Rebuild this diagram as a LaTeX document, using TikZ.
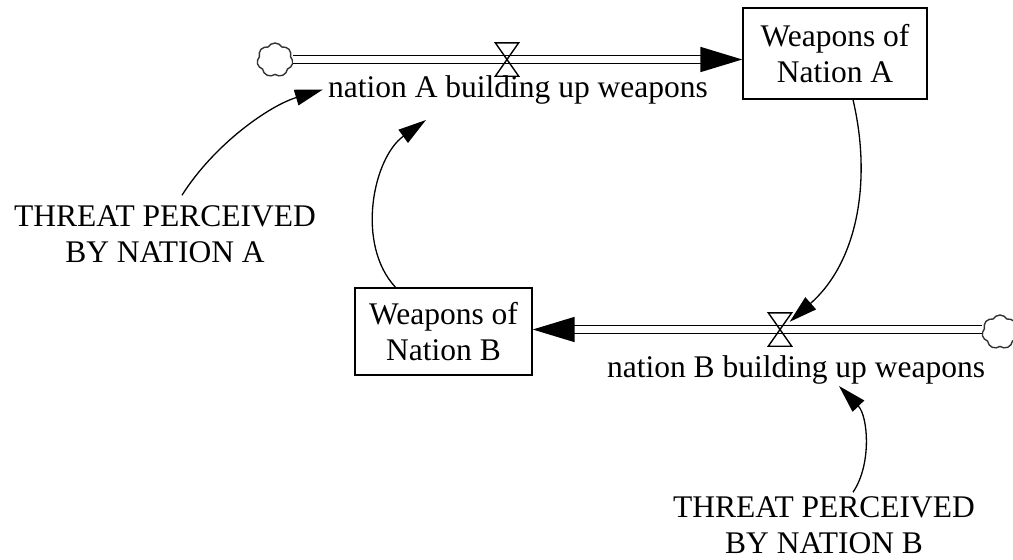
\documentclass[tikz,border=0pt]{standalone}
\usepackage{fontspec}
\setmainfont{Liberation Serif}
\usetikzlibrary{arrows.meta, positioning, shapes.symbols}

\newcommand{\drawvalve}[1]{\draw[line width=1.4pt] (#1.north west) -- (#1.north east) -- (#1.south west) -- (#1.south east) -- cycle;}

\begin{document}
\begin{tikzpicture}[
    x=1pt, y=-1pt,
    font=\fontsize{31.5}{36}\selectfont,
    stock/.style={draw, rectangle, line width=1.4pt, align=center, inner sep=2pt},
    txt/.style={align=center, inner sep=2pt},
    source/.style={draw=black!80, cloud, cloud puffs=7, cloud puff arc=120, aspect=1.05, minimum width=36pt, minimum height=34pt, inner sep=0pt, line width=1.4pt},
    valve/.style={inner sep=0pt, minimum width=23pt, minimum height=33pt},
    pipe/.style={double, double distance=6.5pt, line width=1.7pt, -{Triangle[length=42pt, width=25pt]}},
    arrow/.style={line width=1.3pt, -{Triangle[length=28pt, width=16pt]}}
]
\useasboundingbox (0,0) rectangle (1013,560);

% Stocks
\node[stock, minimum width=184pt, minimum height=91pt] (stockA) at (835,53.5) {Weapons of\\Nation A};
\node[stock, minimum width=177pt, minimum height=87pt] (stockB) at (443.5,331.5) {Weapons of\\Nation B};

% Sources and valves
\node[source] (cloudA) at (275,60) {};
\node[source] (cloudB) at (1000,332) {};
\node[valve] (valveA) at (507,59.5) {};
\node[valve] (valveB) at (780,329.5) {};

% Flow rates and constants
\node[txt] (rateA) at (518,89.5) {nation A building up weapons};
\node[txt] (rateB) at (796,369.5) {nation B building up weapons};
\node[txt] (threatA) at (165,234) {THREAT PERCEIVED\\BY NATION A};
\node[txt] (threatB) at (824,525) {THREAT PERCEIVED\\BY NATION B};

% Flows
\draw[pipe] (valveA -| cloudA.east) -- (valveA -| stockA.west);
\draw[pipe] (valveB -| cloudB.west) -- (valveB -| stockB.east);
\drawvalve{valveA}
\drawvalve{valveB}

% Information links
\draw[arrow] ([xshift=17pt, yshift=8pt]threatA.north) .. controls +(33,-52) and +(-53,16) .. ([xshift=-3pt]rateA.west);
\draw[arrow] ([xshift=-48pt]stockB.north) .. controls +(-40,-43) and +(-53,38) .. ([xshift=100pt, yshift=-14pt]rateA.south west);
\draw[arrow] ([xshift=18pt]stockA.south) .. controls +(19,81) and +(68,-60) .. ([xshift=-2pt, yshift=-9pt]valveB.north east);
\draw[arrow] ([xshift=29pt, yshift=2pt]threatB.north) .. controls +(19,-28) and +(29,30) .. ([xshift=43pt]rateB.south);

\end{tikzpicture}
\end{document}
